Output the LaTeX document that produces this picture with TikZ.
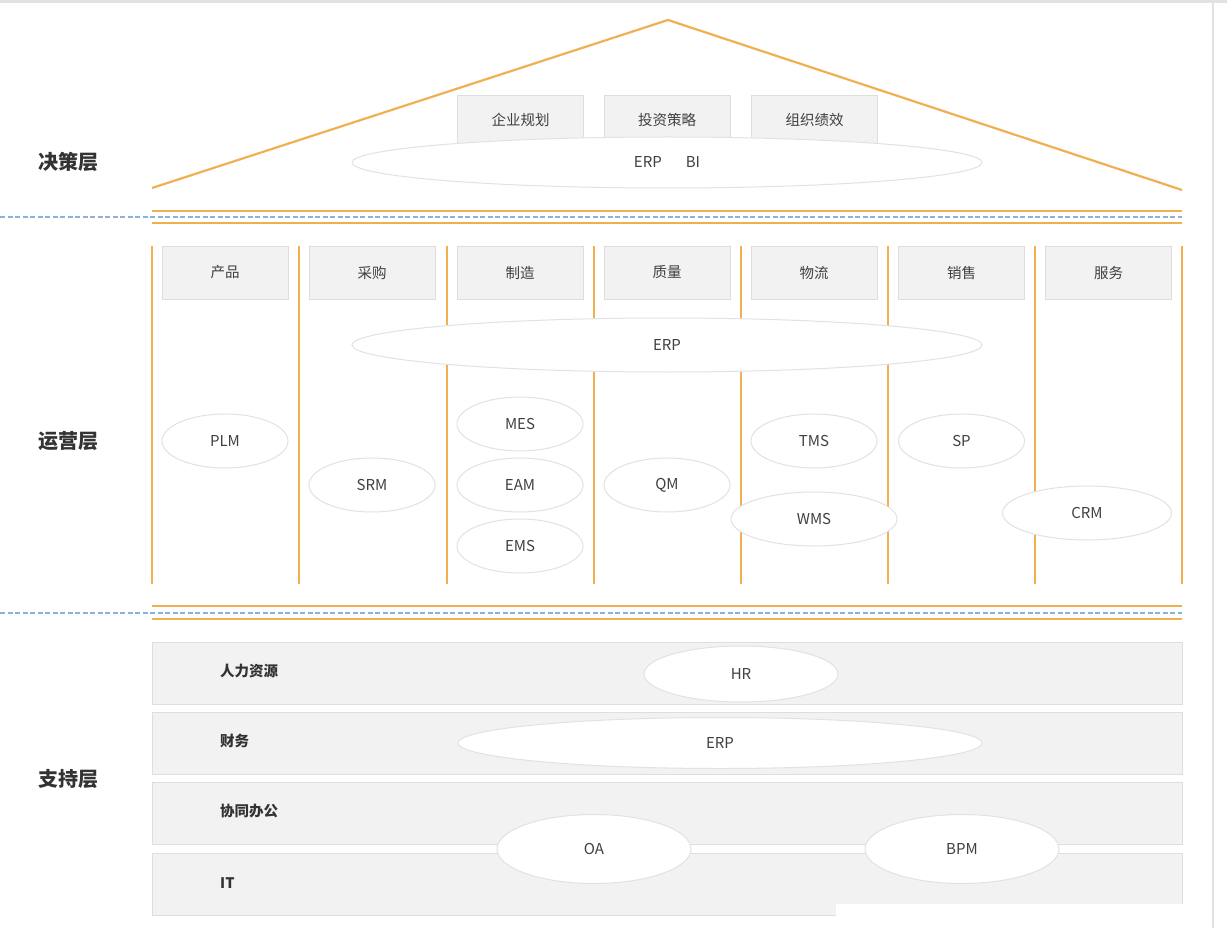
\documentclass[tikz,border=0pt]{standalone}
\usepackage{fontspec}
\setmainfont{Noto Sans CJK SC}
\usetikzlibrary{shapes.geometric}
\definecolor{roof}{RGB}{240,176,82}
\definecolor{dashblue}{RGB}{140,178,218}
\definecolor{boxfill}{RGB}{242,242,242}
\definecolor{boxline}{RGB}{222,222,222}
\definecolor{ellline}{RGB}{226,226,226}
\definecolor{txt}{RGB}{64,64,64}
\definecolor{frame}{RGB}{226,226,226}
\tikzset{
  orangeline/.style={draw=roof,line width=2.5pt},
  colline/.style={draw=roof,line width=1.4pt},
  blueline/.style={draw=dashblue,line width=2pt,dash pattern=on 5pt off 2.5pt},
  grbox/.style={draw=boxline,fill=boxfill,line width=0.8pt,inner sep=0pt,text=txt,font=\fontsize{14.5}{16}\selectfont},
  ell/.style={ellipse,draw=ellline,fill=white,line width=1pt,inner sep=0pt,text=txt,font=\fontsize{15}{17}\selectfont},
  layerlab/.style={text=txt!80!black,font=\fontsize{20}{22}\selectfont\bfseries,inner sep=0pt},
  rowlab/.style={text=txt!80!black,font=\fontsize{14.5}{16}\selectfont\bfseries,inner sep=0pt,anchor=west},
}
\begin{document}
\begin{tikzpicture}[x=1pt,y=-1pt]
\useasboundingbox[fill=white] (0,0) rectangle (1227,928);
% frame
\draw[frame,line width=3pt] (0,1.5) -- (1227,1.5);
\draw[frame,line width=1.5pt] (1213,0) -- (1213,928);

% roof
\coordinate (rl) at (152,188);
\coordinate (ra) at (668,20);
\coordinate (rr) at (1182,190);
\draw[orangeline,line width=2.2pt,line join=round] (rl) -- (ra) -- (rr);

% top boxes
\node[grbox,minimum width=126pt,minimum height=60pt] (b1) at (520.5,125) {};
\node[grbox,minimum width=126pt,minimum height=60pt] (b2) at (667,125) {};
\node[grbox,minimum width=126pt,minimum height=60pt] (b3) at (814.5,125) {};
\node[text=txt,font=\fontsize{14.5}{16}\selectfont,inner sep=0pt] (t1) at (520.5,120) {企业规划};
\node[text=txt,font=\fontsize{14.5}{16}\selectfont,inner sep=0pt] (t2) at (667,120) {投资策略};
\node[text=txt,font=\fontsize{14.5}{16}\selectfont,inner sep=0pt] (t3) at (814.5,120) {组织绩效};
\node[ell,minimum width=630pt,minimum height=51pt] (erpbi) at (667,162.5) {ERP\hspace{24pt}BI};

% separators top
\coordinate (s1l) at (152,211); \coordinate (s1r) at (1182,211);
\coordinate (s2l) at (152,223); \coordinate (s2r) at (1182,223);
\coordinate (d1l) at (0,217); \coordinate (d1r) at (1182,217);
\draw[orangeline] (s1l) -- (s1r);
\draw[orangeline] (s2l) -- (s2r);
\draw[blueline] (d1l) -- (d1r);

% column lines
\foreach \x [count=\i] in {152,299,447,594,741,888,1035,1182}{
  \coordinate (ct\i) at (\x,246);
  \coordinate (cb\i) at (\x,584);
  \draw[colline] (ct\i) -- (cb\i);
}

% column boxes
\foreach \c/\t [count=\i] in {225/产品,372/采购,520/制造,667/质量,814/物流,961.5/销售,1108.5/服务}{
  \node[grbox,minimum width=126pt,minimum height=53pt] (cbox\i) at (\c,272.5) {\t};
}

% operational ellipses
\node[ell,minimum width=630pt,minimum height=54pt] (erp2) at (667,345) {ERP};
\node[ell,minimum width=126pt,minimum height=54pt] (plm) at (225,441) {PLM};
\node[ell,minimum width=126pt,minimum height=54pt] (srm) at (372,485) {SRM};
\node[ell,minimum width=126pt,minimum height=54pt] (mes) at (520,424) {MES};
\node[ell,minimum width=126pt,minimum height=54pt] (eam) at (520,485) {EAM};
\node[ell,minimum width=126pt,minimum height=54pt] (ems) at (520,546) {EMS};
\node[ell,minimum width=126pt,minimum height=54pt] (qm) at (667,485) {QM};
\node[ell,minimum width=126pt,minimum height=54pt] (tms) at (814,441) {TMS};
\node[ell,minimum width=166pt,minimum height=54pt] (wms) at (814,519) {WMS};
\node[ell,minimum width=126pt,minimum height=54pt] (sp) at (961.5,441) {SP};
\node[ell,minimum width=169pt,minimum height=54pt] (crm) at (1087,513) {CRM};

% separators bottom
\coordinate (s3l) at (152,606); \coordinate (s3r) at (1182,606);
\coordinate (s4l) at (152,619); \coordinate (s4r) at (1182,619);
\coordinate (d2l) at (0,613); \coordinate (d2r) at (1182,613);
\draw[orangeline] (s3l) -- (s3r);
\draw[orangeline] (s4l) -- (s4r);
\draw[blueline] (d2l) -- (d2r);

% support rows
\node[grbox,minimum width=1030pt,minimum height=62pt] (r1) at (667,673) {};
\node[grbox,minimum width=1030pt,minimum height=62pt] (r2) at (667,743) {};
\node[grbox,minimum width=1030pt,minimum height=62pt] (r3) at (667,813.5) {};
\node[grbox,minimum width=1030pt,minimum height=62pt] (r4) at (667,884) {};
\node[rowlab] (l1) at (220,671) {人力资源};
\node[rowlab] (l2) at (220,741) {财务};
\node[rowlab] (l3) at (220,811) {协同办公};
\node[rowlab] (l4) at (220,883) {IT};

\node[ell,minimum width=194pt,minimum height=56pt] (hr) at (741,674) {HR};
\node[ell,minimum width=524pt,minimum height=51pt] (erp3) at (720,743) {ERP};
\node[ell,minimum width=194pt,minimum height=69pt] (oa) at (594,849) {OA};
\node[ell,minimum width=194pt,minimum height=69pt] (bpm) at (962,849) {BPM};

% white patch (as in reference)
\fill[white] (836,904) rectangle (1184,918);

% layer labels
\node[layerlab] (lay1) at (68,162) {决策层};
\node[layerlab] (lay2) at (68,441) {运营层};
\node[layerlab] (lay3) at (68,779) {支持层};
\end{tikzpicture}
\end{document}
